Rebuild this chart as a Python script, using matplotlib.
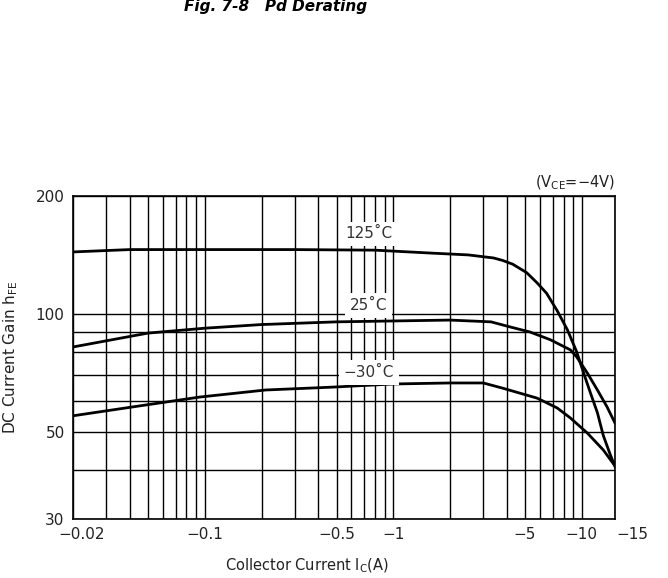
import matplotlib
matplotlib.use("Agg")
import matplotlib.pyplot as plt
from matplotlib.ticker import FixedLocator, NullFormatter
import matplotlib.transforms as mtransforms

plt.rcParams['font.family'] = ['DejaVu Sans']

# Data (Ic magnitude in A, hFE)
ic_125 = [0.02, 0.04, 0.1, 0.3, 0.8, 1.6, 2.5, 3.0, 3.4, 3.8, 4.3, 5.1, 5.8, 6.5, 7.4, 8.4, 9.4, 10.2, 11.1, 12.1, 13.0, 14.1, 15.0]
h_125 = [144, 146, 146, 146, 145.5, 143, 141.5, 140, 139, 137, 134, 127.5, 120, 113, 102, 91, 80, 71, 63, 56, 49, 44, 40.8]

ic_25 = [0.02, 0.05, 0.1, 0.2, 0.5, 1.0, 2.0, 3.3, 4.2, 5.3, 6.8, 8.7, 9.4, 10.7, 12.1, 13.6, 15.0]
h_25 = [82.4, 89.4, 92, 94, 95.5, 96, 96.5, 95.5, 92.6, 90, 86, 81, 77.7, 70.7, 64, 58, 52.7]

ic_m30 = [0.02, 0.042, 0.094, 0.21, 0.48, 1.0, 2.0, 3.0, 3.8, 5.8, 7.4, 8.7, 10.7, 13.0, 14.6, 15.0]
h_m30 = [55, 58, 61.4, 64, 65.1, 66.3, 66.7, 66.7, 64.7, 61, 57.6, 54.3, 49.7, 45, 41.7, 41]

x_major = [0.02, 0.1, 0.5, 1, 5, 10, 15]
x_labels = ["\u22120.02", "\u22120.1", "\u22120.5", "\u22121", "\u22125", "\u221210", "\u221215"]
x_minor = [0.03, 0.04, 0.05, 0.06, 0.07, 0.08, 0.09, 0.2, 0.3, 0.4, 0.6, 0.7, 0.8, 0.9, 2, 3, 4, 6, 7, 8, 9]
y_major = [30, 50, 100, 200]
y_labels = ["30", "50", "100", "200"]
y_minor = [40, 60, 70, 80, 90]

curve_labels = ["125\u02daC", "25\u02daC", "\u221230\u02daC"]
label_pos = [(0.74, 160), (0.74, 105), (0.74, 71)]

fig = plt.figure(figsize=(6.68, 5.78), dpi=100)
ax = fig.add_axes([73/668, 1-519/578, (615-73)/668, (519-196)/578])
ax.set_xscale('log')
ax.set_yscale('log')
ax.set_xlim(0.02, 15)
ax.set_ylim(30, 200)

ax.xaxis.set_major_locator(FixedLocator(x_major))
ax.xaxis.set_minor_locator(FixedLocator(x_minor))
ax.set_xticklabels(x_labels)
ax.xaxis.set_minor_formatter(NullFormatter())
ax.yaxis.set_major_locator(FixedLocator(y_major))
ax.yaxis.set_minor_locator(FixedLocator(y_minor))
ax.set_yticklabels(y_labels)
ax.yaxis.set_minor_formatter(NullFormatter())

ax.tick_params(which='both', length=0, labelsize=11, colors='#222222')
ax.tick_params(axis='x', pad=6)
ax.tick_params(axis='y', pad=6)
ax.grid(which='both', color='black', linewidth=1.0)
ax.set_axisbelow(True)
for s in ax.spines.values():
    s.set_linewidth(1.2)

for lbl in ax.get_xticklabels():
    if lbl.get_text() == "\u221215":
        lbl.set_ha('left')
        lbl.set_transform(lbl.get_transform() + mtransforms.ScaledTranslation(1/100, 0, fig.dpi_scale_trans))
    if lbl.get_text() == "\u22120.02":
        lbl.set_transform(lbl.get_transform() + mtransforms.ScaledTranslation(9/100, 0, fig.dpi_scale_trans))

ax.plot(ic_125, h_125, color='black', lw=2.0, zorder=3)
ax.plot(ic_25, h_25, color='black', lw=2.0, zorder=3)
ax.plot(ic_m30, h_m30, color='black', lw=2.0, zorder=3)

for t, (xx, yy) in zip(curve_labels, label_pos):
    ax.text(xx, yy, t, ha='center', va='center', fontsize=11, color='#333333', zorder=4,
            bbox=dict(facecolor='white', edgecolor='none', pad=3.5))

ax.text(1.0, 1.012, "(V$_{\\mathregular{CE}}$=\u22124V)", transform=ax.transAxes,
        ha='right', va='bottom', fontsize=10.5, color='#222222')

ax.set_xlabel("Collector Current I$_{\\mathregular{C}}$(A)", fontsize=10.5, color='#222222')
ax.xaxis.set_label_coords((307-73)/542, -(557-519)/323)
ax.set_ylabel("DC Current Gain h$_{\\mathregular{FE}}$", fontsize=11, color='#222222')
ax.yaxis.set_label_coords(-(73-20)/542, 0.5)

fig.text(184/668, 1-11/578, "Fig. 7-8   Pd Derating", ha='left', va='baseline',
         fontsize=11, fontweight='bold', fontstyle='italic', color='black')

fig.savefig("out.png", dpi=100)
